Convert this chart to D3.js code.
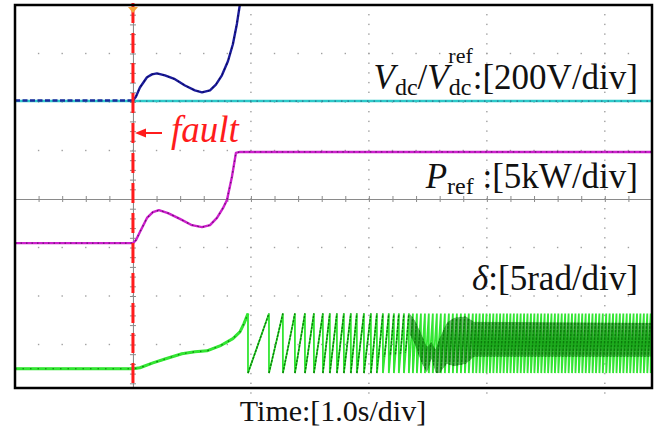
<!DOCTYPE html>
<html>
<head>
<meta charset="utf-8">
<script src="https://cdn.jsdelivr.net/npm/d3@7"></script>
<style>
  html, body { margin: 0; padding: 0; background: #fff; }
  svg { display: block; font-family: "Liberation Serif", "Times New Roman", serif; }
</style>
</head>
<body>
<div id="chart"></div>
<script>
// time in seconds (fault at t = 0), values in screen divisions from the centre line
const vdcT = [-1.0, 0.0, 0.025, 0.059, 0.119, 0.161, 0.203, 0.271, 0.356, 0.441, 0.525, 0.585, 0.653, 0.703, 0.754, 0.805, 0.847, 0.881, 0.907, 0.924];
const vdcV = [2.03, 2.03, 2.11, 2.30, 2.51, 2.57, 2.59, 2.55, 2.47, 2.34, 2.24, 2.20, 2.24, 2.36, 2.55, 2.84, 3.19, 3.61, 4.02, 4.33];

const vdcRefT = [-1.0, 4.4];
const vdcRefV = [2.02, 2.02];

const prefT = [-1.0, 0.0, 0.025, 0.059, 0.119, 0.169, 0.220, 0.297, 0.398, 0.500, 0.585, 0.653, 0.712, 0.763, 0.797, 0.839, 0.873, 0.907, 4.4];
const prefV = [-0.91, -0.91, -0.85, -0.68, -0.39, -0.27, -0.23, -0.29, -0.41, -0.54, -0.58, -0.54, -0.39, -0.19, -0.02, 0.46, 0.95, 0.97, 0.97];

// rotor angle before it starts slipping
const deltaT = [-1.0, 0.0, 0.059, 0.169, 0.271, 0.415, 0.525, 0.627, 0.737, 0.847, 0.907, 0.941, 0.975];
const deltaV = [-3.50, -3.50, -3.48, -3.38, -3.30, -3.19, -3.15, -3.13, -3.03, -2.88, -2.74, -2.57, -2.36];
const deltaTop = -2.36;
const deltaBottom = -3.59;
// instants where the angle wraps from top to bottom
const wrapT = [0.975, 1.153, 1.271, 1.373, 1.458, 1.534, 1.610, 1.669, 1.729, 1.788, 1.847, 1.898, 1.958,
  2.017, 2.068, 2.119, 2.169, 2.212, 2.254, 2.297, 2.339, 2.373, 2.407, 2.441, 2.475, 2.508, 2.542, 2.576,
  2.610, 2.644, 2.678, 2.712, 2.746, 2.780, 2.814, 2.847, 2.881, 2.910, 2.939, 2.968, 2.997, 3.026, 3.055,
  3.084, 3.113, 3.142, 3.171, 3.200, 3.229, 3.258, 3.287, 3.316, 3.345, 3.374, 3.403, 3.432, 3.461, 3.490,
  3.519, 3.548, 3.577, 3.606, 3.635, 3.664, 3.693, 3.722, 3.751, 3.780, 3.809, 3.838, 3.867, 3.896, 3.925,
  3.954, 3.983, 4.012, 4.041, 4.070, 4.099, 4.128, 4.157, 4.186, 4.215, 4.244, 4.273, 4.302, 4.331, 4.360,
  4.389, 4.418];
// dark (dense sample) band of the delta trace
const bandT = [0.0, 2.068, 2.085, 2.314, 2.347, 2.390, 2.440, 2.492, 2.530, 2.565, 2.602, 2.660, 2.720, 2.822, 2.890, 4.4];
const bandHi = [-2.26, -2.26, -2.36, -2.36, -2.36, -2.50, -2.75, -3.05, -2.95, -3.10, -2.85, -2.55, -2.45, -2.42, -2.53, -2.55];
const bandLo = [-3.67, -3.67, -3.27, -3.17, -2.80, -3.00, -3.35, -3.59, -3.30, -3.59, -3.59, -3.40, -3.45, -3.40, -3.25, -3.25];
const solidFrom = 2.347;

const W = 668, H = 429;
const x = d3.scaleLinear().domain([-1, 4.4]).range([15, 652]);
const y = d3.scaleLinear().domain([-4, 4]).range([393, 5]);
const zip = (a, b) => a.map((t, i) => [t, b[i]]);

const svg = d3.select('#chart').append('svg').attr('width', W).attr('height', H);
const defs = svg.append('defs');
defs.append('clipPath').attr('id', 'plot')
  .append('rect').attr('x', 15).attr('y', 5).attr('width', 637).attr('height', 383);

const line = d3.line().x(d => x(d[0])).y(d => y(d[1]));

// grid dots
const grid = svg.append('g').attr('fill', '#a0a0a0');
const yDots = d3.range(-4, 4.001, 0.2);
[1, 2, 3, 4].forEach(t => {
  grid.selectAll(null).data(yDots).join('rect')
    .attr('x', x(t) - 0.7).attr('y', d => y(d) - 0.7).attr('width', 1.4).attr('height', 1.4);
});
const xDots = d3.range(-1, 4.401, 0.2);
[-3, -2, -1, 1, 2, 3].forEach(v => {
  grid.selectAll(null).data(xDots).join('rect')
    .attr('x', d => x(d) - 0.7).attr('y', y(v) - 0.7).attr('width', 1.4).attr('height', 1.4);
});

// centre axes
const axCol = '#8a8a8a';
const hTicks = d3.range(-1, 4.401, 0.2);
const vTicks = d3.range(-4, 4.001, 0.2);
const axes = svg.append('g').attr('clip-path', 'url(#plot)');
axes.append('g').attr('transform', `translate(0,${y(0)})`)
  .call(d3.axisBottom(x).tickValues(hTicks).tickSize(3).tickFormat(''));
axes.append('g').attr('transform', `translate(0,${y(0)})`)
  .call(d3.axisTop(x).tickValues(hTicks).tickSize(3).tickFormat(''));
axes.append('g').attr('transform', `translate(${x(0)},0)`)
  .call(d3.axisLeft(y).tickValues(vTicks).tickSize(3).tickFormat(''));
axes.append('g').attr('transform', `translate(${x(0)},0)`)
  .call(d3.axisRight(y).tickValues(vTicks).tickSize(3).tickFormat(''));
axes.selectAll('.domain, .tick line').attr('stroke', axCol).attr('stroke-width', 1);

const traces = svg.append('g').attr('clip-path', 'url(#plot)').attr('fill', 'none')
  .attr('stroke-linejoin', 'round');

// Vdc ref (cyan) and Vdc (blue)
const vdcRef = zip(vdcRefT, vdcRefV);
const vdc = zip(vdcT, vdcV);
traces.append('path').attr('d', line(vdcRef)).attr('stroke', '#2cc9c9').attr('stroke-width', 2.4);
traces.append('path').attr('d', line(vdcRef.map(d => [Math.max(d[0], 0), d[1]])))
  .attr('stroke', '#2a6f8c').attr('stroke-width', 1.2).attr('stroke-dasharray', '1.5,5');
traces.append('path').attr('d', line(vdc.filter(d => d[0] <= 0)))
  .attr('stroke', '#1c2a9c').attr('stroke-width', 2.4).attr('stroke-dasharray', '5,2.5');
traces.append('path').attr('d', line(vdc.filter(d => d[0] >= 0)))
  .attr('stroke', '#1a1a9a').attr('stroke-width', 2.4);
traces.append('path').attr('d', line(vdc.filter(d => d[0] >= 0)))
  .attr('stroke', '#0a0a55').attr('stroke-width', 1.2).attr('stroke-dasharray', '1.5,4');

// Pref (magenta)
const pref = zip(prefT, prefV);
traces.append('path').attr('d', line(pref)).attr('stroke', '#cc1fcc').attr('stroke-width', 2.4);
traces.append('path').attr('d', line(pref)).attr('stroke', '#4a1050').attr('stroke-width', 1.3)
  .attr('stroke-dasharray', '1.5,4').attr('opacity', 0.75);

// delta (green sawtooth)
const deltaPre = zip(deltaT, deltaV);
const saw = deltaPre.slice();
const rises = [];
wrapT.forEach((t, i) => {
  saw.push([t, deltaBottom]);
  if (i + 1 < wrapT.length) {
    saw.push([wrapT[i + 1], deltaTop]);
    rises.push([[t, deltaBottom], [wrapT[i + 1], deltaTop]]);
  }
});
const green = '#33e633', dark = '#0b7a0b';
traces.append('path').attr('d', line(deltaPre)).attr('stroke', green).attr('stroke-width', 3);
traces.append('path').attr('d', line(saw)).attr('stroke', green).attr('stroke-width', 1.8)
  .attr('stroke-linejoin', 'miter');
traces.append('path').attr('d', line(deltaPre)).attr('stroke', dark).attr('stroke-width', 1.2)
  .attr('stroke-dasharray', '1.5,6');

const band = bandT.map((t, i) => ({ t, hi: bandHi[i], lo: bandLo[i] }));
const area = d3.area().x(d => x(d.t)).y0(d => y(d.lo)).y1(d => y(d.hi));
defs.append('clipPath').attr('id', 'band').append('path').attr('d', area(band));
const darkG = traces.append('g').attr('clip-path', 'url(#band)');
darkG.append('path').attr('d', area(band.filter(d => d.t >= solidFrom)))
  .attr('fill', dark).attr('opacity', 0.55).attr('stroke', 'none');
darkG.selectAll(null).data(rises).join('path')
  .attr('d', d => line(d)).attr('stroke', dark).attr('stroke-width', 1.4)
  .attr('stroke-dasharray', '2.5,1.2');

// fault marker
svg.append('line').attr('x1', x(0)).attr('x2', x(0)).attr('y1', 3).attr('y2', 388)
  .attr('stroke', '#ff1c1c').attr('stroke-width', 3).attr('stroke-dasharray', '20,10');
svg.append('path').attr('d', `M${x(0) - 5},7 L${x(0) + 5},7 L${x(0)},13 Z`).attr('fill', '#f3a23a');

// frame
svg.append('rect').attr('x', 15).attr('y', 5).attr('width', 637).attr('height', 383)
  .attr('fill', 'none').attr('stroke', '#000').attr('stroke-width', 2.5);

// fault arrow + text
svg.append('line').attr('x1', 142).attr('x2', 162).attr('y1', 133).attr('y2', 133)
  .attr('stroke', '#ff1c1c').attr('stroke-width', 2);
svg.append('path').attr('d', 'M135,133 L146,128.5 L146,137.5 Z').attr('fill', '#ff1c1c');
svg.append('text').attr('x', 171).attr('y', 142).attr('font-size', 37).attr('font-style', 'italic')
  .attr('fill', '#ff1c1c').text('fault');

// channel labels
function label(parts, xr, yb) {
  const t = svg.append('text').attr('x', xr).attr('y', yb).attr('text-anchor', 'end')
    .attr('font-size', 35).attr('fill', '#111');
  parts.forEach(p => {
    const s = t.append('tspan').text(p.s);
    if (p.it) s.attr('font-style', 'italic');
    if (p.fs) s.attr('font-size', p.fs);
    if (p.dy) s.attr('dy', p.dy);
    if (p.dx) s.attr('dx', p.dx);
  });
}
label([
  { s: 'V', it: true }, { s: 'dc', fs: 24, dy: 6 }, { s: '/', dy: -6 }, { s: 'V', it: true },
  { s: 'dc', fs: 24, dy: 6 }, { s: 'ref', fs: 22, dx: -23, dy: -32 }, { s: ':[200V/div]', dy: 26 }
], 638, 89);
label([{ s: 'P', it: true }, { s: 'ref', fs: 24, dy: 6 }, { s: ' :[5kW/div]', dy: -6 }], 638, 188);
label([{ s: 'δ', it: true }, { s: ':[5rad/div]' }], 638, 290);

svg.append('text').attr('x', 333).attr('y', 421).attr('text-anchor', 'middle')
  .attr('font-size', 30).attr('fill', '#111').text('Time:[1.0s/div]');
</script>
</body>
</html>
